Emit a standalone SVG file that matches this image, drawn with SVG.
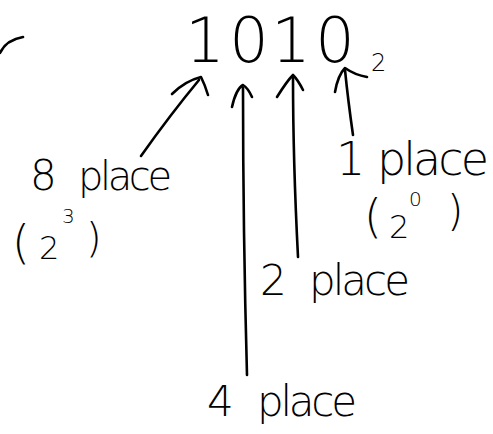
<svg xmlns="http://www.w3.org/2000/svg" width="493" height="434" viewBox="0 0 493 434">
<style>
.s{fill:none;stroke:#000;stroke-width:2.6;stroke-linecap:round;stroke-linejoin:round}
text{font-family:"DejaVu Sans","Liberation Sans",sans-serif;font-weight:200;fill:#000}
</style>
<rect width="493" height="434" fill="#fff"/>
<path class="s" d="M0,53 Q6,40 23,37"/>
<g id="number">
<text font-size="62" text-anchor="middle" y="62"><tspan x="205">1</tspan><tspan x="249">0</tspan><tspan x="291">1</tspan><tspan x="335">0</tspan></text>
<text font-size="24" x="371" y="71">2</text>
</g>
<g id="connectors">
<path class="s" d="M141,156 Q170,115 199,80"/>
<path class="s" d="M172,94 Q185,81 201,77 Q205,85 208,95"/>
<path class="s" d="M247,375 Q243,230 243,88"/>
<path class="s" d="M232,107 Q236,89 243,85 Q248,88 252,97"/>
<path class="s" d="M298,257 Q293,160 293,77"/>
<path class="s" d="M277,97 Q287,81 293,75 Q298,80 303,90"/>
<path class="s" d="M353,135 Q348,100 345,70"/>
<path class="s" d="M335,92 Q338,75 345,68 Q355,75 367,77"/>
</g>
<g id="label8">
<text font-size="42" y="190"><tspan x="30">8</tspan><tspan x="78" y="190" font-size="40" textLength="94">place</tspan></text>
<text><tspan x="12" y="258" font-size="46">(</tspan><tspan x="39" y="259" font-size="32">2</tspan><tspan x="62" y="223" font-size="20">3</tspan><tspan x="86" y="252" font-size="40">)</tspan></text>
</g>
<g id="label1">
<text font-size="46" y="170"><tspan x="336" y="175">1</tspan><tspan x="377" font-size="46" textLength="112">place</tspan></text>
<text><tspan x="364" y="232" font-size="46">(</tspan><tspan x="389" y="238" font-size="32">2</tspan><tspan x="409" y="206" font-size="20">0</tspan><tspan x="447" y="226" font-size="42">)</tspan></text>
</g>
<g id="label2">
<text font-size="42" y="295"><tspan x="260">2</tspan><tspan x="309" textLength="101">place</tspan></text>
</g>
<g id="label4">
<text font-size="42" y="416"><tspan x="207">4</tspan><tspan x="257" textLength="100">place</tspan></text>
</g>
</svg>
